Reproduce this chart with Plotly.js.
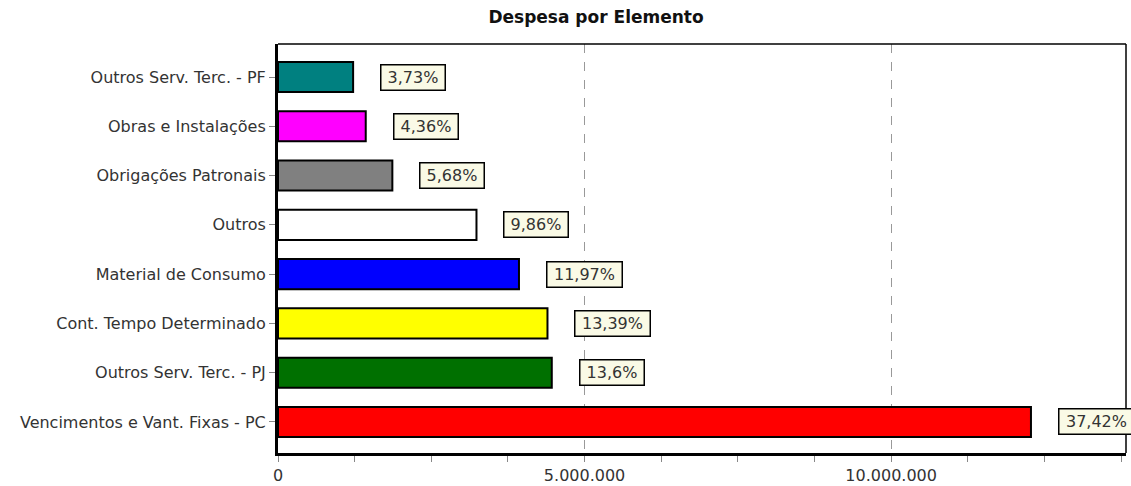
<!DOCTYPE html>
<html>
<head>
<meta charset="utf-8">
<script src="https://cdn.plot.ly/plotly-3.0.1.min.js"></script>
<style>html,body{margin:0;padding:0;background:#fff;}</style>
</head>
<body>
<div id="chart" style="width:1131px;height:486px;"></div>
<script>
// Data (bottom to top)
const categories = [
  "Vencimentos e Vant. Fixas - PC",
  "Outros Serv. Terc. - PJ",
  "Cont. Tempo Determinado",
  "Material de Consumo",
  "Outros",
  "Obrigações Patronais",
  "Obras e Instalações",
  "Outros Serv. Terc. - PF"
];
const values = [12280000, 4465000, 4395000, 3930000, 3237000, 1865000, 1431000, 1225000];
const percentLabels = ["37,42%", "13,6%", "13,39%", "11,97%", "9,86%", "5,68%", "4,36%", "3,73%"];
const barColors = ["#ff0000", "#007000", "#ffff00", "#0000ff", "#ffffff", "#808080", "#ff00ff", "#008080"];

const FONT = "DejaVu Sans, Verdana, sans-serif";

const trace = {
  type: "bar",
  orientation: "h",
  y: categories,
  x: values,
  width: 0.61,
  marker: { color: barColors, line: { color: "#000", width: 2 } },
  hoverinfo: "none"
};

const annotations = categories.map((c, i) => ({
  x: values[i],
  y: c,
  xref: "x",
  yref: "y",
  text: percentLabels[i],
  showarrow: false,
  xanchor: "left",
  yanchor: "middle",
  xshift: 27,
  width: percentLabels[i].length * 11 + 4,
  height: 20,
  align: "center",
  bgcolor: "#fafae6",
  bordercolor: "#000",
  borderwidth: 1.5,
  borderpad: 2,
  font: { family: FONT, size: 16, color: "#333" }
}));

const layout = {
  width: 1131,
  height: 486,
  margin: { l: 278, r: 5, t: 44, b: 33 },
  paper_bgcolor: "#fff",
  plot_bgcolor: "#fff",
  separators: ",.",
  showlegend: false,
  title: {
    text: "<b>Despesa por Elemento</b>",
    x: 0.527,
    xanchor: "center",
    y: 0.965,
    yanchor: "middle",
    font: { family: FONT, size: 17, color: "#111" }
  },
  xaxis: {
    range: [0, 13830000],
    dtick: 5000000,
    tick0: 0,
    tickformat: ",.0f",
    ticks: "outside",
    ticklen: 6,
    tickcolor: "#888",
    showgrid: true,
    gridcolor: "#999",
    griddash: "dash",
    gridwidth: 1,
    zeroline: false,
    showline: true,
    linecolor: "#000",
    linewidth: 3,
    mirror: false,
    minor: { dtick: 1250000, ticks: "outside", ticklen: 6, tickcolor: "#888", showgrid: false },
    tickfont: { family: FONT, size: 16, color: "#333" },
    fixedrange: true
  },
  yaxis: {
    type: "category",
    range: [-0.63, 7.67],
    ticks: "outside",
    ticklen: 6,
    tickcolor: "#888",
    showline: true,
    linecolor: "#000",
    linewidth: 3,
    showgrid: false,
    zeroline: false,
    tickfont: { family: FONT, size: 16, color: "#333" },
    fixedrange: true
  },
  shapes: [
    { type: "line", xref: "paper", yref: "paper", x0: 0, x1: 1, y0: 1, y1: 1, line: { color: "#000", width: 1.5 } },
    { type: "line", xref: "paper", yref: "paper", x0: 1, x1: 1, y0: 0, y1: 1, line: { color: "#000", width: 1.5 } }
  ],
  annotations: annotations
};

Plotly.newPlot("chart", [trace], layout, { displayModeBar: false, staticPlot: true });
</script>
</body>
</html>
